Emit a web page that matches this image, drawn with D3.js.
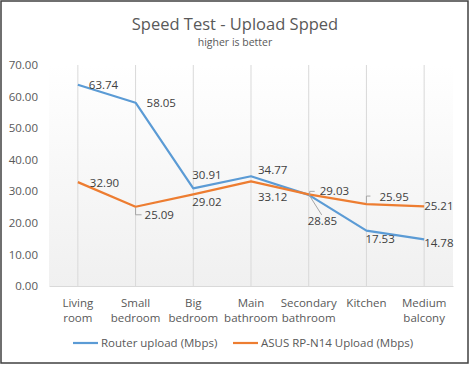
<!DOCTYPE html>
<html><head><meta charset="utf-8">
<script src="https://cdn.jsdelivr.net/npm/d3@7"></script>
<style>html,body{margin:0;padding:0;background:#fff;}svg{display:block;font-family:"Open Sans",sans-serif;}</style>
</head><body>
<script>
const title = "Speed Test - Upload Spped";
const subtitle = "higher is better";
const categories = [["Living","room"],["Small","bedroom"],["Big","bedroom"],["Main","bathroom"],["Secondary","bathroom"],["Kitchen"],["Medium","balcony"]];
const seriesNames = ["Router upload (Mbps)","ASUS RP-N14 Upload (Mbps)"];
const routerValues = [63.74,58.05,30.91,34.77,28.85,17.53,14.78];
const asusValues = [32.90,25.09,29.02,33.12,29.03,25.95,25.21];
const yTicks = [0,10,20,30,40,50,60,70];

(function(){
const W=470,H=365;
const colors=["#5B9BD5","#ED7D31"];
const svg=d3.select("body").append("svg").attr("width",W).attr("height",H);
const defs=svg.append("defs");
const g=defs.append("linearGradient").attr("id","pg").attr("x1",0).attr("y1",0).attr("x2",0).attr("y2",1);
g.append("stop").attr("offset","0%").attr("stop-color","#ffffff");
g.append("stop").attr("offset","100%").attr("stop-color","#f0f0f0");

svg.append("rect").attr("x",1).attr("y",1).attr("width",467).attr("height",362).attr("fill","#fff").attr("stroke","#404040").attr("stroke-width",1.5);

const pL=49,pR=453,pT=65,pB=286;
const x=d3.scaleBand().domain(d3.range(categories.length)).range([pL,pR]);
const y=d3.scaleLinear().domain([0,70]).range([pB,pT]);
const cx=i=>x(i)+x.bandwidth()/2;

svg.append("rect").attr("x",pL).attr("y",pT).attr("width",pR-pL).attr("height",pB-pT).attr("fill","url(#pg)");

svg.append("g").selectAll("line").data(d3.range(categories.length)).join("line")
  .attr("x1",d=>cx(d)).attr("x2",d=>cx(d)).attr("y1",pT).attr("y2",pB)
  .attr("stroke","#d9d9d9").attr("stroke-width",1);

const xa=svg.append("g").attr("transform",`translate(0,${pB})`)
  .call(d3.axisBottom(x).tickSize(0).tickFormat(()=>""));
xa.select(".domain").attr("stroke","#d9d9d9");
xa.selectAll(".tick text").remove();
const xl=svg.append("g");
categories.forEach((c,i)=>{
  const t=xl.append("text").attr("x",cx(i)).attr("y",307).attr("text-anchor","middle")
    .attr("fill","#595959").attr("font-size","11.5px");
  c.forEach((s,j)=>t.append("tspan").attr("x",cx(i)).attr("dy",j?15:0).text(s));
});

const ya=svg.append("g").attr("transform",`translate(${pL},0)`)
  .call(d3.axisLeft(y).tickValues(yTicks).tickSize(0).tickPadding(11).tickFormat(d3.format(".2f")));
ya.select(".domain").remove();
ya.selectAll("text").attr("fill","#595959").attr("font-size","11.5px").attr("font-family","'Open Sans',sans-serif");

svg.append("text").attr("x",235).attr("y",30).attr("text-anchor","middle").attr("fill","#595959").attr("font-size","16.5px").text(title);
svg.append("text").attr("x",235).attr("y",46).attr("text-anchor","middle").attr("fill","#595959").attr("font-size","10.5px").text(subtitle);

const line=d3.line().x((d,i)=>cx(i)).y(d=>y(d));
[routerValues,asusValues].forEach((vals,k)=>{
  svg.append("path").datum(vals).attr("d",line).attr("fill","none").attr("stroke",colors[k]).attr("stroke-width",2.2).attr("stroke-linejoin","round");
});

const labelOffsets=[
 [[11,0],[11,0],[-1,-13],[7,-6],[-1,26],[-1,8],[0,4]],
 [[12,1],[9,8],[-1,8],[7,16],[11,-3],[13,-7],[0,0]]
];
const leaders={
 "1-1":[[0,1],[0,8],[6,8]],
 "1-4":[[1,2],[1,-3],[6,-3]],
 "0-4":[[1,1],[13,20]],
 "1-5":[[0,-1],[0,-8],[4,-8]]
};
const labG=svg.append("g");
[routerValues,asusValues].forEach((vals,k)=>{
  vals.forEach((v,i)=>{
    const [dx,dy]=labelOffsets[k][i];
    const px=cx(i),py=y(v);
    const ld=leaders[k+"-"+i];
    if(ld){
      labG.append("path").attr("d",d3.line()(ld.map(p=>[px+p[0],py+p[1]]))).attr("fill","none").attr("stroke","#a6a6a6").attr("stroke-width",1);
    }
    labG.append("text").attr("x",px+dx).attr("y",py+dy).attr("dy","0.35em")
      .attr("fill","#404040").attr("font-size","11.5px").text(d3.format(".2f")(v));
  });
});

const legX=[73,233];
seriesNames.forEach((n,k)=>{
  svg.append("line").attr("x1",legX[k]).attr("x2",legX[k]+25).attr("y1",343).attr("y2",343).attr("stroke",colors[k]).attr("stroke-width",2.2);
  svg.append("text").attr("x",legX[k]+28).attr("y",343).attr("dy","0.35em").attr("fill","#595959").attr("font-size","11.5px").text(n);
});
})();
</script>
</body></html>
